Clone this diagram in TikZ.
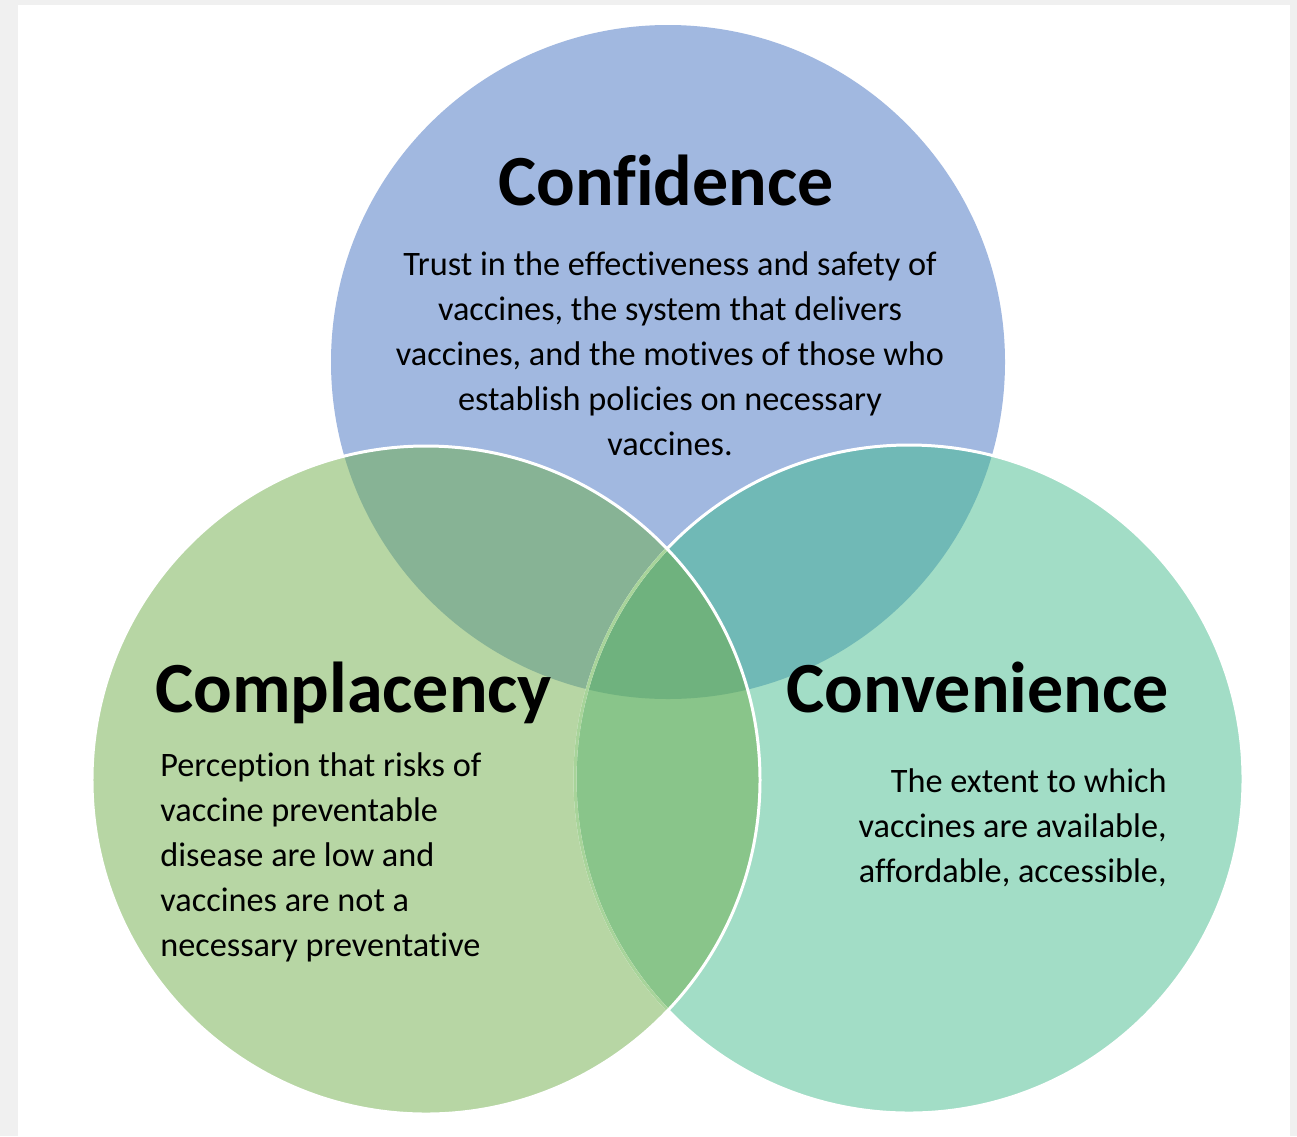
\documentclass[tikz,border=0pt]{standalone}
\usepackage{fontspec}
\setmainfont{Carlito}[Ligatures=NoCommon]
\definecolor{pagegray}{RGB}{240,240,240}
\definecolor{confblue}{RGB}{161,184,224}
\definecolor{complgreen}{RGB}{183,214,164}
\definecolor{convteal}{RGB}{162,221,198}
\definecolor{bluegreen}{RGB}{135,179,149}
\definecolor{blueteal}{RGB}{112,185,182}
\definecolor{greenteal}{RGB}{137,197,138}
\definecolor{allthree}{RGB}{111,178,126}
\definecolor{faintedge}{RGB}{168,212,154}
\tikzset{
  heading/.style={font=\fontsize{41}{49}\selectfont\bfseries, inner sep=0pt},
  body/.style={font=\fontsize{19.5}{25.6}\selectfont, inner sep=0pt},
  rim/.style={line width=1.7pt}
}
\begin{document}
\begin{tikzpicture}[x=0.02cm,y=-0.02cm]
	\useasboundingbox (0,0) rectangle (1297,1136);
	\fill[pagegray] (0,0) rectangle (1297,1136);
	\fill[white] (18,5) rectangle (1290,1136);
	\coordinate (T) at (668,362);
	\coordinate (L) at (426,780);
	\coordinate (R) at (909,779);
	\def\rad{334}
	\def\topRad{337}
	\fill[confblue] (T) circle (\topRad);
	\fill[convteal] (R) circle (\rad);
	\fill[complgreen] (L) circle (\rad);
	\begin{scope}
		\clip (T) circle (\topRad);
		\fill[bluegreen] (L) circle (\rad);
		\fill[blueteal] (R) circle (\rad);
	\end{scope}
	\begin{scope}
		\clip (L) circle (\rad);
		\fill[greenteal] (R) circle (\rad);
		\clip (R) circle (\rad);
		\fill[allthree] (T) circle (\topRad);
	\end{scope}
	\draw[rim, white] (R) circle (\rad);
	\begin{scope}
		\clip (L) circle (\rad);
		\draw[rim, faintedge] (R) circle (\rad);
	\end{scope}
	\draw[rim, white] (L) circle (\rad);
	% labels
	\node[heading, anchor=base] (conf) at (666,205) {Confidence};
	\node[body, align=center] (confText) at (670,354) {Trust in the effectiveness and safety of\\
		vaccines, the system that delivers\\
		vaccines, and the motives of those who\\
		establish policies on necessary\\
		vaccines.};
	\node[heading, anchor=base west] (compl) at (155,712) {Complacency};
	\node[body, align=left, anchor=west] (complText) at (160,857) {Perception that risks of\\
		vaccine preventable\\
		disease are low and\\
		vaccines are not a\\
		necessary preventative};
	\node[heading, anchor=base east] (conv) at (1169,712) {Convenience};
	\node[body, align=right, anchor=east] (convText) at (1167,828) {The extent to which\\
		vaccines are available,\\
		affordable, accessible,};
\end{tikzpicture}
\end{document}
